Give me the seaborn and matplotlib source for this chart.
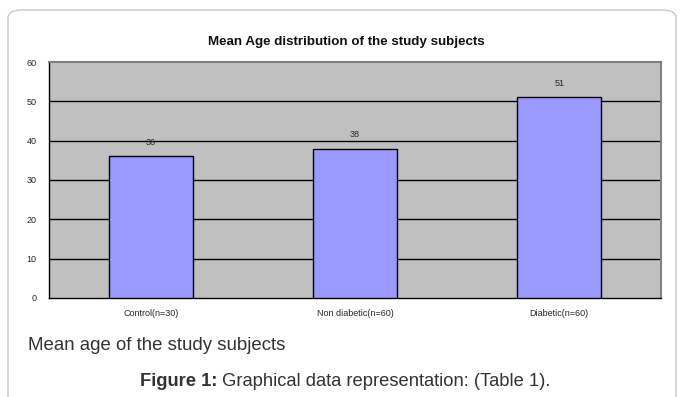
import matplotlib
matplotlib.use("Agg")
import matplotlib.pyplot as plt
import seaborn as sns
import pandas as pd
from matplotlib.patches import FancyBboxPatch

groups = ["Control(n=30)", "Non diabetic(n=60)", "Diabetic(n=60)"]
mean_age = [36, 38, 51]
y_ticks = [0, 10, 20, 30, 40, 50, 60]

df = pd.DataFrame({"group": groups, "age": mean_age})

sns.set_style("white")
plt.rcParams["font.family"] = ["Liberation Sans", "DejaVu Sans"]

fig = plt.figure(figsize=(6.83, 3.97), dpi=100)
ax = fig.add_axes([0.0717, 0.2494, 0.8965, 0.5944])

# outer rounded frame
frame = FancyBboxPatch((8 / 683, -0.2), 668 / 683, 1.2 - 10 / 397,
                       boxstyle="round,pad=0,rounding_size=0.02",
                       transform=fig.transFigure, fill=False,
                       edgecolor="#c8c8c8", linewidth=1.0, zorder=0)
fig.patches.append(frame)

ax.set_facecolor("#c0c0c0")
sns.barplot(data=df, x="group", y="age", ax=ax, color="#9999ff",
            width=0.41, edgecolor="black", linewidth=1.0, saturation=1, zorder=3)

ax.set_ylim(0, 60)
ax.set_xlim(-0.5, 2.5)
ax.set_yticks(y_ticks)
for v in y_ticks[1:-1]:
    ax.axhline(v, color="black", linewidth=1.0, zorder=1)

for i, v in enumerate(mean_age):
    ax.text(i, v + 2.3, str(v), ha="center", va="bottom", fontsize=6.5)

ax.set_xticks([-0.5, 0.5, 1.5, 2.5], minor=False)
ax.set_xticklabels([])
ax.set_xticks([0, 1, 2], minor=True)
ax.set_xticklabels(groups, minor=True, fontsize=6.5)
ax.tick_params(axis="x", which="minor", length=0, pad=8)
ax.tick_params(axis="x", which="major", length=4, width=0.8, direction="out", color="black")
ax.tick_params(axis="y", length=4, width=0.8, direction="out", labelsize=6.5, pad=5, color="black")
ax.set_xlabel("")
ax.set_ylabel("")

for side in ["top", "right"]:
    ax.spines[side].set_color("#808080")
    ax.spines[side].set_linewidth(1.5)
for side in ["left", "bottom"]:
    ax.spines[side].set_color("black")
    ax.spines[side].set_linewidth(1.0)
    ax.spines[side].set_visible(True)

fig.text(346 / 683, 1 - 42 / 397, "Mean Age distribution of the study subjects",
         ha="center", va="center", fontsize=9.6, fontweight="bold", color="#111111")

fig.text(28 / 683, 1 - 345 / 397, "Mean age of the study subjects",
         ha="left", va="center", fontsize=13.4, color="#333333")

bold = fig.text(140 / 683, 1 - 381 / 397, "Figure 1:", ha="left", va="center",
                fontsize=13.2, fontweight="bold", color="#333333")
fig.canvas.draw()
ax.annotate(" Graphical data representation: (Table 1).", xy=(1, 0.5),
            xycoords=bold, ha="left", va="center", fontsize=13.2, color="#333333",
            annotation_clip=False)

fig.savefig("out.png", dpi=100)
